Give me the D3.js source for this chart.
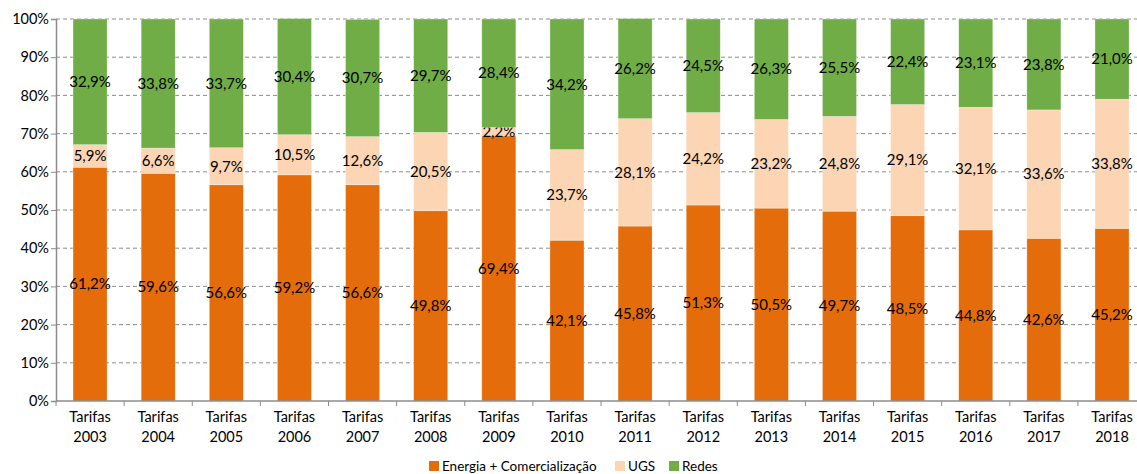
<!DOCTYPE html>
<html>
<head>
<meta charset="utf-8">
<script src="https://cdn.jsdelivr.net/npm/d3@7"></script>
<style>
  body { margin: 0; background: #fff; }
  text { font-family: Lato, "Open Sans", "Liberation Sans", sans-serif; }
</style>
</head>
<body>
<div id="chart"></div>
<script>
var years = ["2003","2004","2005","2006","2007","2008","2009","2010","2011","2012","2013","2014","2015","2016","2017","2018"]
var energia = [61.2,59.6,56.6,59.2,56.6,49.8,69.4,42.1,45.8,51.3,50.5,49.7,48.5,44.8,42.6,45.2]
var ugs     = [5.9,6.6,9.7,10.5,12.6,20.5,2.2,23.7,28.1,24.2,23.2,24.8,29.1,32.1,33.6,33.8]
var redes   = [32.9,33.8,33.7,30.4,30.7,29.7,28.4,34.2,26.2,24.5,26.3,25.5,22.4,23.1,23.8,21.0]
var seriesNames = ["Energia + Comercialização", "UGS", "Redes"]
var colors = ["#E46C0A", "#FCD5B5", "#70AD47"]
var yTicks = [0,10,20,30,40,50,60,70,80,90,100]

var width = 1137, height = 474
var margin = { top: 19, left: 56, bottom: 73 }
var plotW = 16 * 68.13

var svg = d3.select("#chart").append("svg")
  .attr("width", width)
  .attr("height", height)

var x = d3.scaleBand()
  .domain(years)
  .range([margin.left, margin.left + plotW])
  .paddingInner(0.5)
  .paddingOuter(0.25)

var y = d3.scaleLinear()
  .domain([0, 100])
  .range([height - margin.bottom, margin.top])

var fmt = function(v) { return v.toFixed(1).replace(".", ",") + "%" }

// gridlines
svg.append("g")
  .selectAll("line")
  .data(yTicks.slice(1))
  .enter().append("line")
  .attr("x1", margin.left)
  .attr("x2", margin.left + plotW)
  .attr("y1", function(d) { return y(d) })
  .attr("y2", function(d) { return y(d) })
  .attr("stroke", "#8c8c8c")
  .attr("stroke-dasharray", "4,3")

var rows = years.map(function(yr, i) {
  return { year: yr, e: energia[i], u: ugs[i], r: redes[i] }
})
var stack = d3.stack().keys(["e", "u", "r"])(rows)

var layer = svg.selectAll(".layer")
  .data(stack)
  .enter().append("g")
  .attr("fill", function(d, i) { return colors[i] })

layer.selectAll("rect")
  .data(function(d) { return d })
  .enter().append("rect")
  .attr("x", function(d) { return x(d.data.year) })
  .attr("width", x.bandwidth())
  .attr("y", function(d) { return y(d[1]) })
  .attr("height", function(d) { return y(d[0]) - y(d[1]) })
  .attr("stroke", "#ffffff")
  .attr("stroke-opacity", 0.5)
  .attr("stroke-width", 0.6)

layer.selectAll("text")
  .data(function(d) { return d })
  .enter().append("text")
  .attr("x", function(d) { return x(d.data.year) + x.bandwidth() / 2 })
  .attr("y", function(d) { return y((d[0] + d[1]) / 2) })
  .attr("dy", "0.35em")
  .attr("text-anchor", "middle")
  .attr("fill", "#000")
  .attr("font-size", 15)
  .text(function(d) { return fmt(d[1] - d[0]) })

// y axis
var yAxis = svg.append("g")
  .attr("transform", "translate(" + margin.left + ",0)")
  .call(d3.axisLeft(y).tickValues(yTicks).tickSize(5).tickFormat(function(d) { return d + "%" }))
yAxis.select(".domain").attr("stroke", "#8c8c8c").attr("stroke-width", 1.5)
yAxis.selectAll(".tick line").attr("stroke", "#8c8c8c")
yAxis.selectAll(".tick text").attr("font-size", 14.5).attr("fill", "#000").attr("x", -7)
  .style("font-family", "Lato, 'Open Sans', 'Liberation Sans', sans-serif")

// x axis
var xAxisG = svg.append("g")
  .attr("transform", "translate(0," + y(0) + ")")
xAxisG.append("line")
  .attr("x1", margin.left).attr("x2", margin.left + plotW)
  .attr("stroke", "#8c8c8c").attr("stroke-width", 1.5)
xAxisG.selectAll(".xt")
  .data(d3.range(17))
  .enter().append("line")
  .attr("x1", function(i) { return margin.left + i * plotW / 16 })
  .attr("x2", function(i) { return margin.left + i * plotW / 16 })
  .attr("y1", 0).attr("y2", 5)
  .attr("stroke", "#8c8c8c")
var xl = xAxisG.selectAll(".xl")
  .data(years)
  .enter().append("text")
  .attr("text-anchor", "middle")
  .attr("font-size", 14.5)
  .attr("x", function(d) { return x(d) + x.bandwidth() / 2 })
xl.append("tspan").attr("x", function(d) { return x(d) + x.bandwidth() / 2 }).attr("y", 21).text("Tarifas")
xl.append("tspan").attr("x", function(d) { return x(d) + x.bandwidth() / 2 }).attr("y", 41).text(function(d) { return d })

// legend
var legendX = [429, 615, 669]
var legend = svg.append("g")
  .selectAll("g")
  .data(seriesNames)
  .enter().append("g")
  .attr("transform", function(d, i) { return "translate(" + legendX[i] + ",461)" })
legend.append("rect")
  .attr("width", 10).attr("height", 10)
  .attr("fill", function(d, i) { return colors[i] })
legend.append("text")
  .attr("x", 13).attr("y", 10)
  .attr("font-size", 13.5)
  .text(function(d) { return d })
</script>
</body>
</html>
